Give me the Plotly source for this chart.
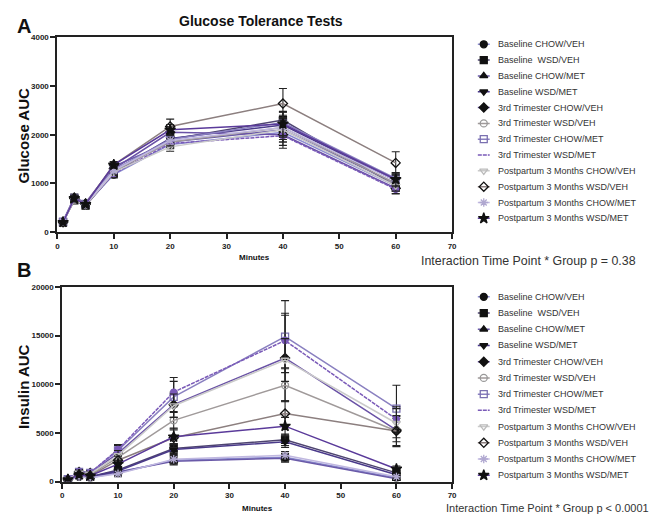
import plotly.graph_objects as go

# ---------------- data ----------------
minutes = [1, 3, 5, 10, 20, 40, 60]

group_names = [
    "Baseline CHOW/VEH",
    "Baseline  WSD/VEH",
    "Baseline CHOW/MET",
    "Baseline WSD/MET",
    "3rd Trimester CHOW/VEH",
    "3rd Trimester WSD/VEH",
    "3rd Trimester CHOW/MET",
    "3rd Trimester WSD/MET",
    "Postpartum 3 Months CHOW/VEH",
    "Postpartum 3 Months WSD/VEH",
    "Postpartum 3 Months CHOW/MET",
    "Postpartum 3 Months WSD/MET",
]

glucose_mean = [
    [210, 680, 560, 1180, 1800, 2050, 950],
    [200, 650, 540, 1220, 1900, 2300, 950],
    [220, 720, 600, 1350, 1850, 2100, 1000],
    [200, 700, 580, 1250, 1920, 2200, 1050],
    [210, 690, 570, 1300, 2050, 2000, 900],
    [200, 660, 560, 1250, 1850, 2150, 1000],
    [210, 700, 580, 1280, 1900, 2250, 1100],
    [200, 680, 560, 1200, 1820, 1980, 880],
    [190, 670, 550, 1230, 1750, 2100, 950],
    [200, 700, 580, 1380, 2170, 2640, 1420],
    [210, 690, 570, 1260, 1880, 2150, 1050],
    [200, 690, 570, 1380, 2100, 2220, 1080],
]
glucose_sem = [
    [20, 60, 40, 70, 90, 200, 100],
    [20, 50, 40, 80, 100, 180, 110],
    [20, 60, 40, 70, 110, 250, 120],
    [20, 50, 40, 80, 100, 200, 100],
    [20, 60, 40, 70, 120, 280, 110],
    [20, 50, 40, 80, 100, 200, 100],
    [20, 60, 40, 70, 110, 220, 120],
    [20, 50, 40, 80, 100, 200, 100],
    [20, 60, 40, 70, 90, 200, 110],
    [20, 60, 40, 70, 150, 310, 230],
    [20, 60, 40, 70, 110, 200, 120],
    [20, 60, 40, 70, 110, 240, 130],
]

insulin_mean = [
    [150, 500, 400, 900, 2200, 2500, 400],
    [200, 700, 500, 1200, 3400, 4300, 900],
    [150, 600, 450, 1000, 2100, 2400, 300],
    [180, 650, 500, 1100, 3300, 4100, 700],
    [250, 1000, 900, 2900, 7900, 12700, 5300],
    [200, 800, 700, 2500, 6300, 9900, 5200],
    [250, 1000, 900, 3200, 8700, 14900, 7500],
    [250, 1000, 900, 3300, 9200, 14500, 6400],
    [220, 900, 800, 2700, 7800, 12500, 6000],
    [200, 700, 600, 2200, 4500, 7000, 5200],
    [150, 500, 400, 800, 2300, 2700, 500],
    [200, 700, 600, 1800, 4600, 5700, 1300],
]
insulin_sem = [
    [40, 150, 120, 300, 400, 400, 150],
    [50, 200, 150, 350, 500, 600, 250],
    [40, 150, 120, 300, 400, 400, 150],
    [50, 200, 150, 350, 500, 600, 250],
    [60, 250, 200, 500, 1300, 4400, 1200],
    [50, 200, 150, 400, 900, 1700, 1500],
    [60, 250, 200, 500, 1600, 3700, 2400],
    [60, 250, 200, 500, 1500, 2800, 1300],
    [60, 250, 200, 500, 1200, 2200, 1500],
    [50, 200, 150, 400, 1000, 1300, 1600],
    [40, 150, 120, 300, 400, 400, 150],
    [50, 200, 150, 400, 700, 900, 300],
]

x_ticks = [0, 10, 20, 30, 40, 50, 60, 70]
glucose_ticks = [0, 1000, 2000, 3000, 4000]
insulin_ticks = [0, 5000, 10000, 15000, 20000]

# ---------------- styles ----------------
styles = [
    dict(line="#8c8cd0", dash="solid", symbol="circle", mcolor="#111111", msize=7),
    dict(line="#4e4470", dash="solid", symbol="square", mcolor="#111111", msize=7),
    dict(line="#6a5aa8", dash="solid", symbol="triangle-up", mcolor="#111111", msize=7),
    dict(line="#4a3a8a", dash="solid", symbol="triangle-down", mcolor="#111111", msize=7),
    dict(line="#6a52a6", dash="solid", symbol="diamond", mcolor="#111111", msize=7),
    dict(line="#a09a9a", dash="solid", symbol="circle-open", mcolor="#999999", msize=7),
    dict(line="#8a80c0", dash="solid", symbol="square-open", mcolor="#7a70b0", msize=7),
    dict(line="#7a5ab8", dash="4px,1px", symbol="circle", mcolor="#7a5ab8", msize=0),
    dict(line="#cacaca", dash="solid", symbol="triangle-down-open", mcolor="#bbbbbb", msize=7),
    dict(line="#8c7f7f", dash="solid", symbol="diamond-open", mcolor="#111111", msize=7),
    dict(line="#c0b8e0", dash="solid", symbol="asterisk-open", mcolor="#b0a8d0", msize=7),
    dict(line="#5a3a9a", dash="solid", symbol="star", mcolor="#111111", msize=8),
]

W, H = 650, 521
FONT = "Liberation Sans, Arial, sans-serif"


def px_x(p):
    return p / W


def px_y(p):
    return 1 - p / H


fig = go.Figure()

panels = [
    (glucose_mean, glucose_sem, "x", "y"),
    (insulin_mean, insulin_sem, "x2", "y2"),
]
for means, sems, xa, ya in panels:
    for i, name in enumerate(group_names):
        s = styles[i]
        fig.add_trace(go.Scatter(
            x=minutes, y=means[i], name=name, mode="lines+markers",
            xaxis=xa, yaxis=ya, showlegend=False,
            line=dict(color=s["line"], width=1.5,
                      dash="solid" if s["msize"] else s["dash"]),
            marker=dict(symbol=s["symbol"], size=s["msize"], color=s["mcolor"],
                        line=dict(color=s["mcolor"], width=1.3)),
            error_y=dict(type="data", array=sems[i], visible=True,
                         color="#222222", thickness=1.1, width=4),
        ))

# ---------------- custom legends (pixel-unit hidden axes) ----------------
legend_specs = [
    ("x3", "y3", 41.0, 16.1),
    ("x4", "y4", 298.0, 16.5),
]
LX_MARK, LX_HALF, LX_TEXT = 487, 6, 499
for xa, ya, y0, dy in legend_specs:
    for i, name in enumerate(group_names):
        s = styles[i]
        yy = y0 + dy * i
        fig.add_trace(go.Scatter(
            x=[LX_MARK - LX_HALF, LX_MARK + LX_HALF], y=[yy, yy], mode="lines",
            xaxis=xa, yaxis=ya, showlegend=False, hoverinfo="skip",
            line=dict(color=s["line"], width=1.5, dash=s["dash"]),
        ))
        if s["msize"]:
            fig.add_trace(go.Scatter(
                x=[LX_MARK], y=[yy], mode="markers",
                xaxis=xa, yaxis=ya, showlegend=False, hoverinfo="skip",
                marker=dict(symbol=s["symbol"], size=s["msize"], color=s["mcolor"],
                            line=dict(color=s["mcolor"], width=1.3)),
            ))
        fig.add_annotation(
            text=name, x=LX_TEXT, y=yy, xref=xa, yref=ya,
            xanchor="left", yanchor="middle", showarrow=False,
            font=dict(family=FONT, size=9, color="#333333"),
        )

axis_common = dict(
    showgrid=False, zeroline=False, showline=True, linecolor="#222222",
    linewidth=2, mirror=True, ticks="outside", ticklen=5, tickwidth=2,
    tickcolor="#222222", tickformat="d",
    tickfont=dict(family=FONT, size=8, color="#222222", weight="bold"),
)
hidden = dict(visible=False, showgrid=False, zeroline=False)

fig.update_layout(
    width=W, height=H,
    margin=dict(l=0, r=0, t=0, b=0),
    paper_bgcolor="white", plot_bgcolor="white",
    showlegend=False,
    xaxis=dict(domain=[px_x(56), px_x(455)], range=[0, 70], tickvals=x_ticks,
               anchor="y", **axis_common),
    yaxis=dict(domain=[px_y(232), px_y(34)], range=[0, 4000],
               tickvals=glucose_ticks, anchor="x", **axis_common),
    xaxis2=dict(domain=[px_x(61), px_x(455)], range=[0, 70], tickvals=x_ticks,
                anchor="y2", **axis_common),
    yaxis2=dict(domain=[px_y(486), px_y(288)], range=[0, 20000],
                tickvals=insulin_ticks, anchor="x2", **axis_common),
    xaxis3=dict(domain=[px_x(470), 1.0], range=[470, 650], anchor="y3", **hidden),
    yaxis3=dict(domain=[px_y(235), px_y(25)], range=[235, 25], anchor="x3", **hidden),
    xaxis4=dict(domain=[px_x(470), 1.0], range=[470, 650], anchor="y4", **hidden),
    yaxis4=dict(domain=[px_y(495), px_y(285)], range=[495, 285], anchor="x4", **hidden),
)


def ann(text, x, y, size, bold=True, angle=0, xanchor="center", color="#111111"):
    fig.add_annotation(
        text=f"<b>{text}</b>" if bold else text,
        x=px_x(x), y=px_y(y), xref="paper", yref="paper",
        xanchor=xanchor, yanchor="middle", showarrow=False, textangle=angle,
        font=dict(family=FONT, size=size, color=color),
    )


ann("A", 22, 22, 20)
ann("B", 22, 271, 20)
ann("Glucose Tolerance Tests", 262, 17, 14)
ann("Glucose AUC", 22, 134, 15, angle=-90)
ann("Insulin AUC", 22, 389, 15, angle=-90)
ann("Minutes", 255, 258, 8)
ann("Minutes", 258, 513, 8)
ann("Interaction Time Point * Group p = 0.38", 422, 262, 12.4, bold=False,
    xanchor="left", color="#333333")
ann("Interaction Time Point * Group p < 0.0001", 447, 513, 11, bold=False,
    xanchor="left", color="#333333")

fig.write_html("out.html")
